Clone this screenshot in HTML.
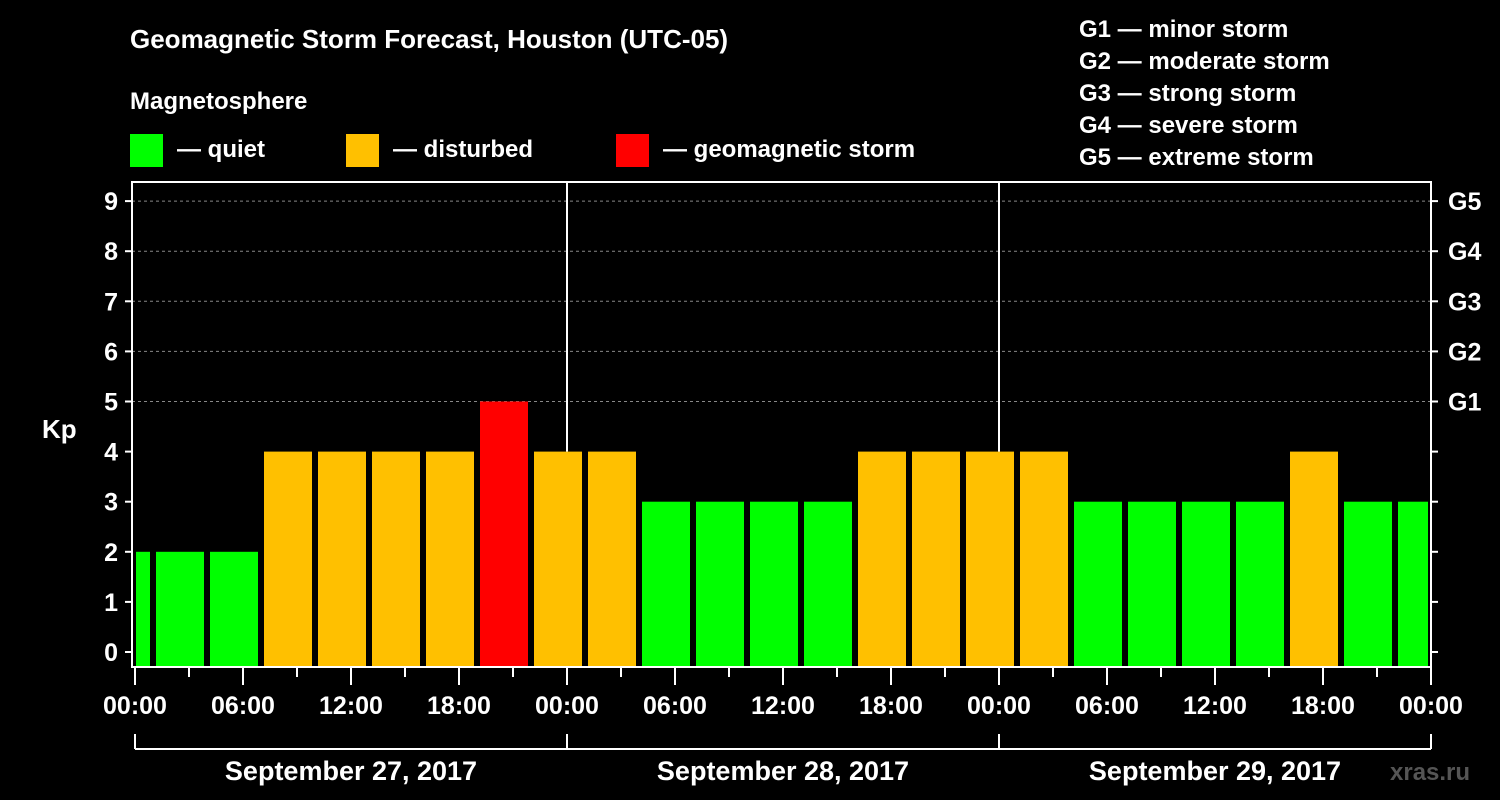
<!DOCTYPE html>
<html><head><meta charset="utf-8"><style>
html,body{margin:0;padding:0;background:#000;}
svg{display:block;font-family:"Liberation Sans",Arial,sans-serif;font-weight:bold;}
</style></head><body>
<svg id="chart" width="1500" height="800" viewBox="0 0 1500 800">
<rect width="1500" height="800" fill="#000"/>
<text x="130" y="48" fill="#fff" font-size="26">Geomagnetic Storm Forecast, Houston (UTC-05)</text>
<text x="130" y="109" fill="#fff" font-size="24">Magnetosphere</text>
<g><rect x="130" y="134" width="33" height="33" fill="#00ff00"/><text x="177" y="157" fill="#fff" font-size="24">— quiet</text></g>
<g><rect x="346" y="134" width="33" height="33" fill="#ffc000"/><text x="393" y="157" fill="#fff" font-size="24">— disturbed</text></g>
<g><rect x="616" y="134" width="33" height="33" fill="#ff0000"/><text x="663" y="157" fill="#fff" font-size="24">— geomagnetic storm</text></g>
<g fill="#fff" font-size="24">
<text x="1079" y="37">G1 — minor storm</text>
<text x="1079" y="69">G2 — moderate storm</text>
<text x="1079" y="101">G3 — strong storm</text>
<text x="1079" y="133">G4 — severe storm</text>
<text x="1079" y="165">G5 — extreme storm</text>
</g>
<text x="42" y="438" fill="#fff" font-size="26">Kp</text>
<text x="1390" y="780" fill="#555" font-size="24">xras.ru</text>
<g id="plot"></g>
</svg>
<script>
const kpValues=[2,2,2,4,4,4,4,5,4,4,3,3,3,3,4,4,4,4,3,3,3,3,4,3,3];
const startHour=-2;
const stepHours=3;
const yTicks=[0,1,2,3,4,5,6,7,8,9];
const gLabels=["G1","G2","G3","G4","G5"];
const xTickLabels=["00:00","06:00","12:00","18:00","00:00","06:00","12:00","18:00","00:00","06:00","12:00","18:00","00:00"];
const dateLabels=["September 27, 2017","September 28, 2017","September 29, 2017"];
const NS="http://www.w3.org/2000/svg";
const plot=document.getElementById('plot');
const L=132,R=1431,T=182,B=667;
const x=h=>135+h*18;
const y=v=>652-v*50.1;
function mk(tag,attrs,parent){const e=document.createElementNS(NS,tag);for(const k in attrs)e.setAttribute(k,attrs[k]);(parent||plot).appendChild(e);return e;}
function color(v){return v>=5?"#ff0000":(v>=4?"#ffc000":"#00ff00");}
// gridlines
for(let v=6;v<=9;v++){const g=mk('line',{x1:L,x2:R,y1:y(v),y2:y(v),stroke:"#888","stroke-dasharray":"3,3","stroke-width":1});

}
{const g=mk('line',{x1:L,x2:R,y1:y(5),y2:y(5),stroke:"#888","stroke-dasharray":"3,3","stroke-width":1});

}
// bars
kpValues.forEach((v,i)=>{
 const h0=startHour+i*stepHours;
 let x0=Math.max(x(h0)+3,136), x1=Math.min(x(h0+stepHours)-3,1428);
 const r=mk('rect',{x:x0,y:y(v),width:x1-x0,height:B-y(v),fill:color(v)});
 
 
});
// day separators
[1,2].forEach(d=>{const l=mk('line',{x1:x(24*d),x2:x(24*d),y1:T,y2:y(kpValues[Math.round((24*d-startHour)/stepHours)-1]||0),stroke:"#fff","stroke-width":2});

});
// frame
const f=mk('rect',{x:L,y:T,width:R-L,height:B-T,fill:"none",stroke:"#fff","stroke-width":2});


// y ticks
yTicks.forEach(v=>{
 mk('line',{x1:L-7,x2:L,y1:y(v),y2:y(v),stroke:"#fff","stroke-width":2});
 mk('line',{x1:R,x2:R+7,y1:y(v),y2:y(v),stroke:"#fff","stroke-width":2});
 const t=mk('text',{x:118,y:y(v)+9,fill:"#fff","font-size":25,"text-anchor":"end"});
 t.textContent=v;
 
 
});
gLabels.forEach((g,i)=>{const t=mk('text',{x:1448,y:y(5+i)+9,fill:"#fff","font-size":25});
t.textContent=g;

});
// x ticks
for(let h=0;h<=72;h+=3){const major=h%6===0;mk('line',{x1:x(h),x2:x(h),y1:B,y2:B+(major?18:10),stroke:"#fff","stroke-width":2});}
xTickLabels.forEach((s,i)=>{const t=mk('text',{x:x(i*6),y:714,fill:"#fff","font-size":25,"text-anchor":"middle"});
t.textContent=s;

});
// date brackets
mk('line',{x1:x(0),x2:x(72),y1:749,y2:749,stroke:"#fff","stroke-width":2});
for(let d=0;d<=3;d++)mk('line',{x1:x(24*d),x2:x(24*d),y1:734,y2:749,stroke:"#fff","stroke-width":2});
dateLabels.forEach((s,i)=>{const t=mk('text',{x:x(24*i+12),y:780,fill:"#fff","font-size":27,"text-anchor":"middle"});
t.textContent=s;

});
</script>
</body></html>
